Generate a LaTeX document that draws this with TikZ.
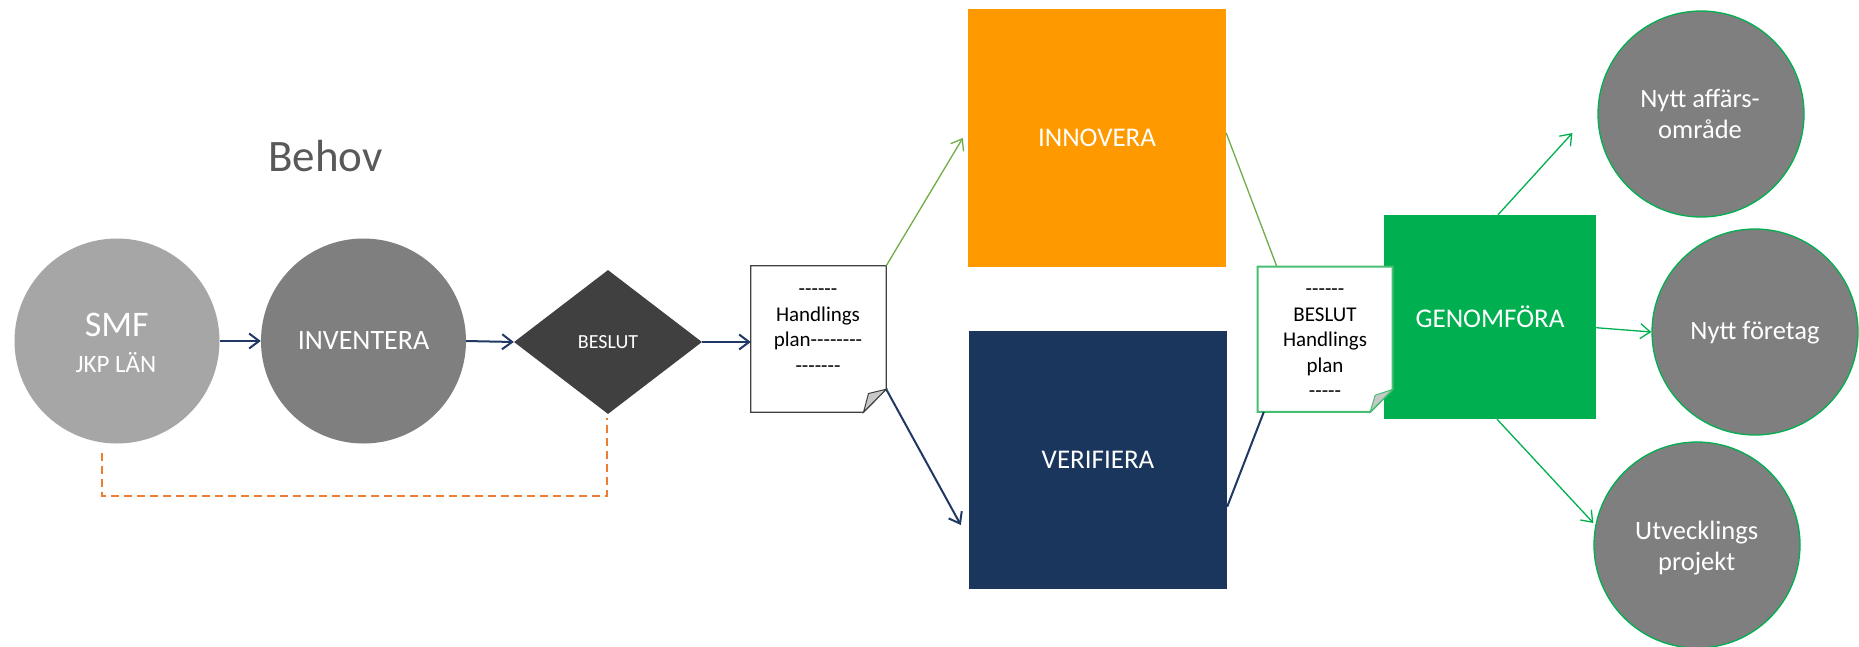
\documentclass[tikz,border=0pt]{standalone}
\usepackage{fontspec}
\setmainfont{Carlito}[Ligatures=TeXOff]
\usetikzlibrary{shapes.geometric,arrows.meta,calc}
\definecolor{navy}{RGB}{31,56,100}
\definecolor{smfgray}{RGB}{166,166,166}
\definecolor{midgray}{RGB}{127,127,127}
\definecolor{darkgray}{RGB}{64,64,64}
\definecolor{orangeI}{RGB}{255,153,0}
\definecolor{navyV}{RGB}{26,54,93}
\definecolor{greenG}{RGB}{0,176,80}
\definecolor{lgreen}{RGB}{112,173,71}
\definecolor{notegreen}{RGB}{70,190,115}
\definecolor{dashorange}{RGB}{237,125,49}
\definecolor{behovgray}{RGB}{89,89,89}
\definecolor{foldgray}{RGB}{200,200,200}
\begin{document}
\begin{tikzpicture}[x=1pt,y=-1pt,
  tip/.style={-{Straight Barb[length=10pt,width=15pt]}},
  navyarrow/.style={draw=navy,line width=2pt,tip},
  navyline/.style={draw=navy,line width=2pt},
  greenarrow/.style={draw=lgreen,line width=1.3pt,tip},
  greenline/.style={draw=lgreen,line width=1.3pt},
  garrow/.style={draw=greenG,line width=1.3pt,tip},
  orangedash/.style={draw=dashorange,line width=2pt,dash pattern=on 8pt off 5pt},
  bigcircle/.style={circle,inner sep=0pt,minimum size=205pt,text=white},
  rcircle/.style={circle,inner sep=0pt,minimum size=206pt,fill=midgray,draw=greenG,line width=1.3pt},
  sqbox/.style={rectangle,inner sep=0pt,text=white,font=\fontsize{27}{32}\selectfont},
  notebox/.style={rectangle,inner sep=0pt,minimum width=135pt,minimum height=146pt},
  lbl/.style={inner sep=0pt,anchor=base,text=white},
  notetxt/.style={inner sep=0pt,anchor=base,text=black,font=\fontsize{21}{25.5}\selectfont},
  rtxt/.style={inner sep=0pt,anchor=base,text=white,font=\fontsize{26.5}{31.3}\selectfont}
]
\useasboundingbox (0,0) rectangle (1859,646);
\fill[white] (0,0) rectangle (1859,646);

% Behov
\node[inner sep=0pt,anchor=base west,text=behovgray,font=\fontsize{45}{54}\selectfont] (behov) at (268,171.7) {Behov};

% left chain
\node[bigcircle,fill=smfgray] (smf) at (117,341) {};
\node[lbl,font=\fontsize{36}{42}\selectfont] (smftxt) at (116.7,336.7) {SMF};
\node[lbl,font=\fontsize{25}{30}\selectfont] (jkptxt) at (116,372.3) {JKP LÄN};
\node[bigcircle,fill=midgray,font=\fontsize{28}{33}\selectfont] (inv) at (363.5,341) {INVENTERA};
\node[diamond,inner sep=0pt,minimum width=188pt,minimum height=144pt,fill=darkgray,text=white,font=\fontsize{20}{24}\selectfont] (beslut) at (608,342) {BESLUT};

% note 1
\node[notebox] (note1) at (818.5,339) {};
\filldraw[fill=white,draw=darkgray,line width=1.3pt] (note1.north west) -- (note1.north east) -- ($(note1.south east)+(0,-23)$) -- ($(note1.south east)+(-22.7,0)$) -- (note1.south west) -- cycle;
\filldraw[fill=foldgray,draw=darkgray,line width=1pt] ($(note1.south east)+(-22.7,0)$) -- ($(note1.south east)+(-17.7,-18.7)$) -- ($(note1.south east)+(0,-23)$) -- cycle;
\node[notetxt] (note1txt) at (818,295.7) {\begin{tabular}[t]{@{}c@{}}------\\Handlings\\plan--------\\-------\end{tabular}};

% squares
\node[sqbox,fill=orangeI,minimum width=258pt,minimum height=258pt] (innov) at (1097,138) {INNOVERA};
\node[sqbox,fill=navyV,minimum width=258pt,minimum height=258pt] (verif) at (1098,460) {VERIFIERA};
\node[sqbox,fill=greenG,minimum width=212pt,minimum height=204pt] (genom) at (1490,317) {GENOMFÖRA};

% note 2
\node[notebox,minimum width=134.6pt,minimum height=145pt] (note2) at (1325,339.2) {};
\filldraw[fill=white,draw=notegreen,line width=2pt] (note2.north west) -- (note2.north east) -- ($(note2.south east)+(0,-22.4)$) -- ($(note2.south east)+(-22.3,0)$) -- (note2.south west) -- cycle;
\filldraw[fill=foldgray,draw=notegreen,line width=1pt] ($(note2.south east)+(-22.3,0)$) -- ($(note2.south east)+(-17.3,-16.7)$) -- ($(note2.south east)+(0,-22.4)$) -- cycle;
\node[notetxt] (note2txt) at (1325,295.7) {\begin{tabular}[t]{@{}c@{}}------\\BESLUT\\Handlings\\plan\\-----\end{tabular}};

% right circles
\node[rcircle] (aff) at (1701,114) {};
\node[rtxt] (afftxt) at (1700,107.3) {\begin{tabular}[t]{@{}c@{}}Nytt affärs-\\område\end{tabular}};
\node[rcircle] (foret) at (1755,332) {};
\node[rtxt] (forettxt) at (1755,339.3) {Nytt företag};
\node[rcircle] (utv) at (1697,545) {};
\node[rtxt] (utvtxt) at (1696.7,539.3) {\begin{tabular}[t]{@{}c@{}}Utvecklings\\projekt\end{tabular}};

% connectors
\draw[navyarrow] (smf.east) -- (inv.west);
\draw[navyarrow] (inv.east) -- (beslut.west);
\draw[navyarrow] (beslut.east) -- (beslut.east -| note1.west);
\draw[orangedash] ($(smf.south)+(-15,9)$) -- ++(0,43) -| ($(beslut.south)+(-1,4)$);
\draw[greenarrow] (note1.north east) -- ($(innov.west)+(-5,0)$);
\draw[navyarrow] ($(note1.south east)+(0,-23)$) -- ($(verif.west)+(-8,65)$);
\draw[greenline] ($(innov.east)+(0,-5)$) -- ($(note2.north west)+(19.3,0)$);
\draw[navyline] ($(verif.east)+(0,46.7)$) -- ($(note2.south west)+(6.3,0)$);
\draw[garrow] ($(genom.north)+(8,0)$) -- ($(aff.west)+(-25,19)$);
\draw[garrow] ($(genom.east)+(0,10.7)$) -- (foret.west);
\draw[garrow] ($(genom.south)+(7,0)$) -- ($(utv.west)+(0,-22)$);
\end{tikzpicture}
\end{document}
